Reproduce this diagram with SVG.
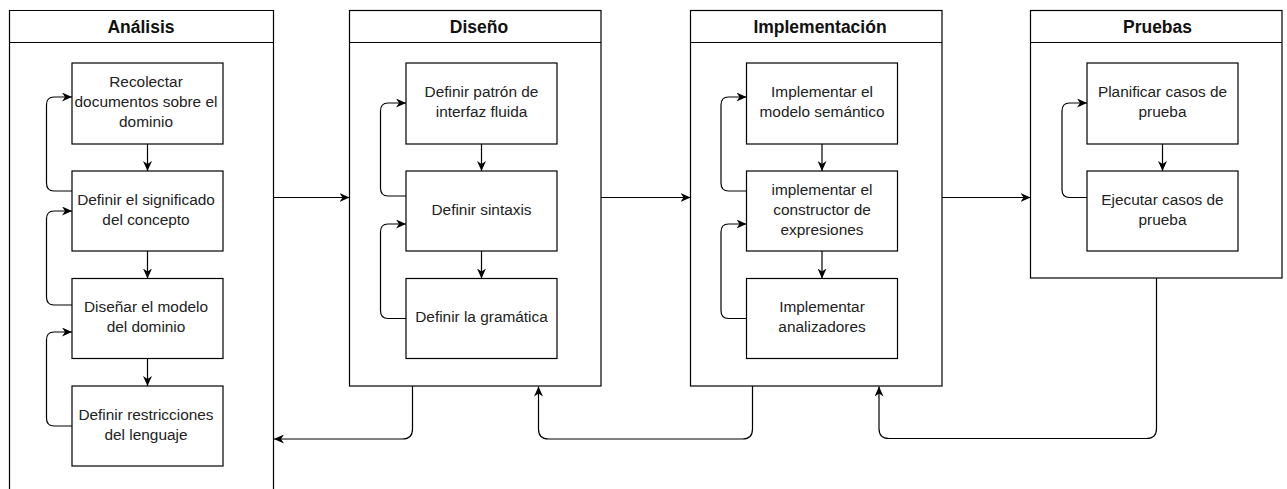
<svg xmlns="http://www.w3.org/2000/svg" width="1287" height="489" viewBox="0 0 1287 489">
  <style>
    .lane { fill: #ffffff; stroke: #000000; stroke-width: 1.2; }
    .box { fill: #ffffff; stroke: #000000; stroke-width: 1.2; }
    .title { font-family: "Liberation Sans", Arial, sans-serif; font-size: 17.5px; font-weight: bold; fill: #111111; text-anchor: middle; }
    .label { font-family: "Liberation Sans", Arial, sans-serif; font-size: 15.4px; fill: #222222; text-anchor: middle; }
    .edge { fill: none; stroke: #000000; stroke-width: 1.2; marker-end: url(#arrow); }
  </style>
  <defs>
    <marker id="arrow" markerUnits="userSpaceOnUse" markerWidth="11" markerHeight="9" refX="10" refY="4.5" orient="auto">
      <path d="M0,0 L10,4.5 L0,9 L3,4.5 Z" fill="#000000"/>
    </marker>
  </defs>
  <rect width="1287" height="489" fill="#ffffff"/>

  <!-- Swimlanes -->
  <g id="lane-analisis">
    <path class="lane" d="M9.5,500 V10.5 H273.5 V500"/>
    <line class="lane" x1="9.5" y1="42.5" x2="273.5" y2="42.5"/>
    <text class="title" x="141" y="33">Análisis</text>
  </g>
  <g id="lane-diseno">
    <rect class="lane" x="349.5" y="10.5" width="251.5" height="375.5"/>
    <line class="lane" x1="349.5" y1="42.5" x2="601" y2="42.5"/>
    <text class="title" x="479" y="33">Diseño</text>
  </g>
  <g id="lane-implementacion">
    <rect class="lane" x="690.5" y="10.5" width="251.5" height="375.5"/>
    <line class="lane" x1="690.5" y1="42.5" x2="942" y2="42.5"/>
    <text class="title" x="820" y="33">Implementación</text>
  </g>
  <g id="lane-pruebas">
    <rect class="lane" x="1030.5" y="10.5" width="251.5" height="267.5"/>
    <line class="lane" x1="1030.5" y1="42.5" x2="1282" y2="42.5"/>
    <text class="title" x="1157.5" y="33">Pruebas</text>
  </g>

  <!-- Análisis tasks -->
  <g id="a1">
    <rect class="box" x="72" y="63" width="151" height="81"/>
    <text class="label" x="146" y="87.1">Recolectar</text>
    <text class="label" x="146" y="107.1">documentos sobre el</text>
    <text class="label" x="146" y="127.1">dominio</text>
  </g>
  <g id="a2">
    <rect class="box" x="72" y="171" width="151" height="80"/>
    <text class="label" x="146" y="204.6">Definir el significado</text>
    <text class="label" x="146" y="224.6">del concepto</text>
  </g>
  <g id="a3">
    <rect class="box" x="72" y="278.5" width="151" height="80"/>
    <text class="label" x="146" y="312.1">Diseñar el modelo</text>
    <text class="label" x="146" y="332.1">del dominio</text>
  </g>
  <g id="a4">
    <rect class="box" x="72" y="386" width="151" height="80"/>
    <text class="label" x="146" y="419.6">Definir restricciones</text>
    <text class="label" x="146" y="439.6">del lenguaje</text>
  </g>

  <!-- Diseño tasks -->
  <g id="d1">
    <rect class="box" x="406" y="63" width="151" height="81"/>
    <text class="label" x="481.5" y="97.1">Definir patrón de</text>
    <text class="label" x="481.5" y="117.1">interfaz fluida</text>
  </g>
  <g id="d2">
    <rect class="box" x="406" y="171" width="151" height="80"/>
    <text class="label" x="481.5" y="214.6">Definir sintaxis</text>
  </g>
  <g id="d3">
    <rect class="box" x="406" y="278.5" width="151" height="80"/>
    <text class="label" x="481.5" y="322.1">Definir la gramática</text>
  </g>

  <!-- Implementación tasks -->
  <g id="i1">
    <rect class="box" x="746.5" y="63" width="151" height="81"/>
    <text class="label" x="822" y="97.1">Implementar el</text>
    <text class="label" x="822" y="117.1">modelo semántico</text>
  </g>
  <g id="i2">
    <rect class="box" x="746.5" y="171" width="151" height="80"/>
    <text class="label" x="822" y="194.6">implementar el</text>
    <text class="label" x="822" y="214.6">constructor de</text>
    <text class="label" x="822" y="234.6">expresiones</text>
  </g>
  <g id="i3">
    <rect class="box" x="746.5" y="278.5" width="151" height="80"/>
    <text class="label" x="822" y="312.1">Implementar</text>
    <text class="label" x="822" y="332.1">analizadores</text>
  </g>

  <!-- Pruebas tasks -->
  <g id="p1">
    <rect class="box" x="1087" y="63" width="151" height="81"/>
    <text class="label" x="1162.5" y="97.1">Planificar casos de</text>
    <text class="label" x="1162.5" y="117.1">prueba</text>
  </g>
  <g id="p2">
    <rect class="box" x="1087" y="171" width="151" height="80"/>
    <text class="label" x="1162.5" y="204.6">Ejecutar casos de</text>
    <text class="label" x="1162.5" y="224.6">prueba</text>
  </g>

  <!-- Connectors -->
  <g id="connectors">
    <!-- Análisis sequence and loops -->
    <path class="edge" d="M147.5,144 V171"/>
    <path class="edge" d="M147.5,251 V278.5"/>
    <path class="edge" d="M147.5,358.5 V386"/>
    <path class="edge" d="M72,191 H54 Q46.5,191 46.5,183 V105 Q46.5,97 54,97 H72"/>
    <path class="edge" d="M72,305 H54 Q46.5,305 46.5,297 V219 Q46.5,211 54,211 H72"/>
    <path class="edge" d="M72,426 H54 Q46.5,426 46.5,418 V340 Q46.5,332 54,332 H72"/>

    <!-- Diseño sequence and loops -->
    <path class="edge" d="M481.5,144 V171"/>
    <path class="edge" d="M481.5,251 V278.5"/>
    <path class="edge" d="M406,196 H388 Q380.5,196 380.5,188 V111 Q380.5,103 388,103 H406"/>
    <path class="edge" d="M406,318.5 H388 Q380.5,318.5 380.5,310.5 V232 Q380.5,224 388,224 H406"/>

    <!-- Implementación sequence and loops -->
    <path class="edge" d="M822,144 V171"/>
    <path class="edge" d="M822,251 V278.5"/>
    <path class="edge" d="M746.5,191 H728.5 Q721,191 721,183 V105 Q721,97 728.5,97 H746.5"/>
    <path class="edge" d="M746.5,318.5 H728.5 Q721,318.5 721,310.5 V232 Q721,224 728.5,224 H746.5"/>

    <!-- Pruebas sequence and loop -->
    <path class="edge" d="M1162.5,144 V171"/>
    <path class="edge" d="M1087,197.5 H1069.5 Q1062,197.5 1062,189.5 V111 Q1062,103 1069.5,103 H1087"/>

    <!-- Forward flow between phases -->
    <path class="edge" d="M273.5,197.5 H349.5"/>
    <path class="edge" d="M601,197.5 H690.5"/>
    <path class="edge" d="M942,197.5 H1030.5"/>

    <!-- Feedback flow between phases -->
    <path class="edge" d="M412.5,386 V429 Q412.5,439 402.5,439 H274"/>
    <path class="edge" d="M752.5,386 V429 Q752.5,439 742.5,439 H548.5 Q538.5,439 538.5,429 V386.5"/>
    <path class="edge" d="M1156.5,278 V428.5 Q1156.5,438.5 1146.5,438.5 H889 Q879,438.5 879,428.5 V386.5"/>
  </g>
</svg>
